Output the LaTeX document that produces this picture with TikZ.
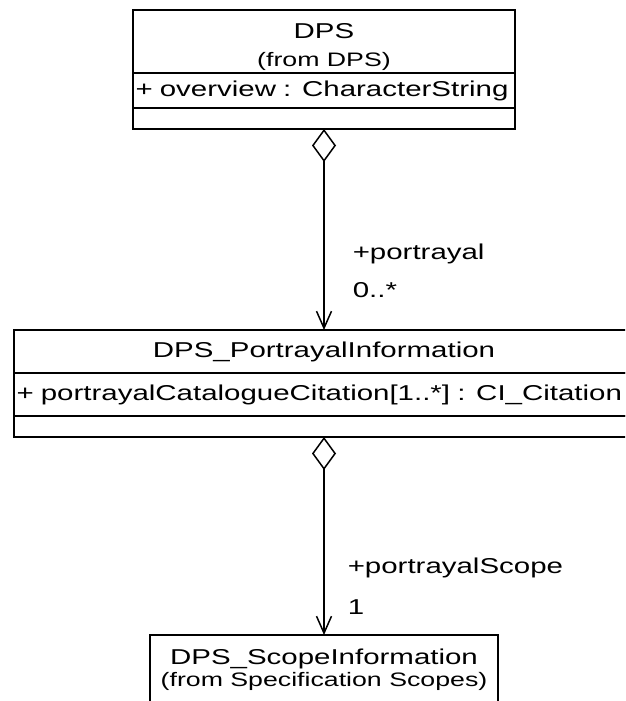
\documentclass[tikz,border=0pt]{standalone}
\usepackage{fontspec}
\setmainfont[FakeStretch=1.37]{Liberation Sans}
\usetikzlibrary{positioning,arrows.meta}

\tikzset{
  compartment/.style={draw, line width=1.6pt, fill=white, outer sep=0pt, inner sep=0pt,
    font=\fontsize{21.5}{25}\selectfont},
  classname/.style={compartment, align=center},
  attrs/.style={compartment, align=left, inner xsep=2.5pt},
  aggregation/.style={line width=1.5pt,
    {Diamond[open,length=33pt,width=24pt]}-{Straight Barb[length=17pt,width=15pt]}},
  role/.style={font=\fontsize{21.5}{25}\selectfont, anchor=west, inner sep=0pt, xshift=28pt}
}
\newcommand{\fromtext}[1]{{\fontsize{19.5}{22}\selectfont (from #1)}}

\begin{document}
\begin{tikzpicture}[x=1pt, y=-1pt]
  \useasboundingbox (0,0) rectangle (625,701);
  \clip (0,0) rectangle (625,701);

  % DPS
  \node[classname, minimum width=382pt, minimum height=63pt, anchor=north] (dps) at (324,10)
    {\rule{0pt}{27pt}DPS\\[3pt]\fromtext{DPS}};
  \node[attrs, text width=377pt, minimum height=35pt, below=0pt of dps] (dpsattr)
    {+ overview : CharacterString};
  \node[compartment, minimum width=382pt, minimum height=21pt, below=0pt of dpsattr] (dpsops) {};

  % DPS_PortrayalInformation
  \node[classname, minimum width=620pt, minimum height=43pt, anchor=north] (pinfo) at (324,330)
    {DPS\_PortrayalInformation};
  \node[attrs, text width=615pt, minimum height=43pt, below=0pt of pinfo] (pinfoattr)
    {+ portrayalCatalogueCitation[1..*] : CI\_Citation};
  \node[compartment, minimum width=620pt, minimum height=21pt, below=0pt of pinfoattr] (pinfoops) {};

  % DPS_ScopeInformation
  \node[classname, minimum width=348pt, minimum height=70pt, anchor=north] (scope) at (324,635)
    {DPS\_ScopeInformation\\[-3pt]\fromtext{Specification Scopes}};

  \draw[aggregation] (dpsops.south) --
    node[role, pos=0.62] {+portrayal}
    node[role, pos=0.80] {0..*} (pinfo.north);
  \draw[aggregation] (pinfoops.south) --
    node[role, pos=0.66, xshift=-5pt] {+portrayalScope}
    node[role, pos=0.86, xshift=-5pt] {1} (scope.north);
\end{tikzpicture}
\end{document}
